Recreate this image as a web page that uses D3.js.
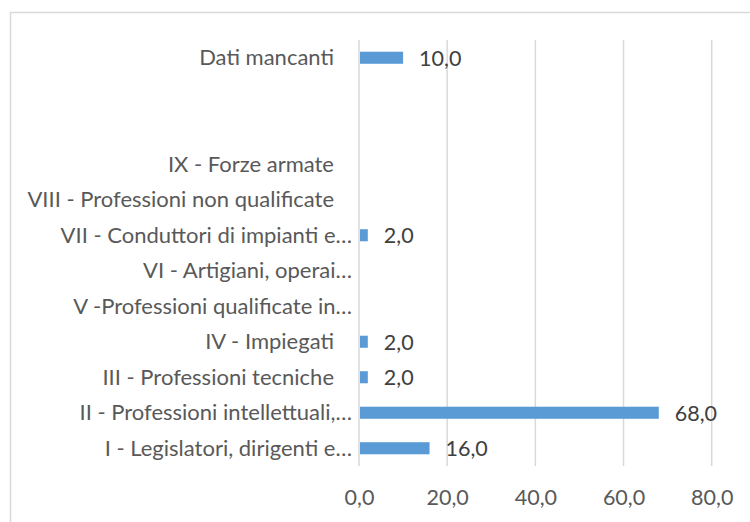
<!DOCTYPE html>
<html>
<head>
<meta charset="utf-8">
<script src="https://cdn.jsdelivr.net/npm/d3@7"></script>
<style>
  html, body { margin: 0; padding: 0; background: #fff; }
  svg { display: block; }
  text { font-family: Lato, "Open Sans", sans-serif; }
</style>
</head>
<body>
<script>
const categories = [
  "Dati mancanti",
  "",
  "",
  "IX - Forze armate",
  "VIII - Professioni non qualificate",
  "VII - Conduttori di impianti e…",
  "VI - Artigiani, operai…",
  "V -Professioni qualificate in…",
  "IV - Impiegati",
  "III - Professioni tecniche",
  "II - Professioni intellettuali,…",
  "I - Legislatori, dirigenti e…"
];
const values = [10.0, null, null, null, null, 2.0, null, null, 2.0, 2.0, 68.0, 16.0];
const tickValues = [0, 20, 40, 60, 80];

const W = 750, H = 522;
const margin = { left: 359, right: 38.3, top: 40, bottom: 56 };

const svg = d3.select("body").append("svg").attr("width", W).attr("height", H);

// outer chart border
svg.append("rect")
  .attr("x", 10.5).attr("y", 12.5)
  .attr("width", W).attr("height", H)
  .attr("fill", "none").attr("stroke", "#d9d9d9").attr("stroke-width", 1.5);

const x = d3.scaleLinear().domain([0, 80]).range([margin.left, W - margin.right]);
const y = d3.scaleBand()
  .domain(categories.map((d, i) => i))
  .range([margin.top, H - margin.bottom])
  .paddingInner(0.66).paddingOuter(0.33);

// gridlines
svg.append("g").selectAll("line").data(tickValues).join("line")
  .attr("x1", d => x(d)).attr("x2", d => x(d))
  .attr("y1", margin.top).attr("y2", H - margin.bottom)
  .attr("stroke", "#d9d9d9").attr("stroke-width", 1.5);

// x axis tick labels
const fmt = d => d3.format(".1f")(d).replace(".", ",");
const xAxis = d3.axisBottom(x).tickValues(tickValues).tickSize(0).tickPadding(0).tickFormat(fmt);
const gx = svg.append("g").attr("transform", `translate(0,${H - margin.bottom})`).call(xAxis);
gx.select(".domain").remove();
gx.selectAll("text")
  .attr("dy", null).attr("y", 39)
  .attr("font-family", "Lato, sans-serif")
  .attr("font-size", 21.5).attr("fill", "#595959");

// category labels
svg.append("g").selectAll("text").data(categories).join("text")
  .attr("x", d => d.endsWith("…") ? 352 : 334)
  .attr("y", (d, i) => y(i) + y.bandwidth() / 2)
  .attr("dy", "0.35em")
  .attr("text-anchor", "end")
  .attr("font-size", 22).attr("fill", "#595959")
  .text(d => d);

// bars
const data = categories.map((c, i) => ({ i, v: values[i] })).filter(d => d.v != null);
svg.append("g").selectAll("rect").data(data).join("rect")
  .attr("x", x(0) + 1)
  .attr("y", d => y(d.i))
  .attr("width", d => x(d.v) - x(0) - 1)
  .attr("height", y.bandwidth())
  .attr("fill", "#5b9bd5");

// data labels
svg.append("g").selectAll("text").data(data).join("text")
  .attr("x", d => x(d.v) + 16)
  .attr("y", d => y(d.i) + y.bandwidth() / 2)
  .attr("dy", "0.38em")
  .attr("font-size", 21.5).attr("fill", "#404040")
  .text(d => fmt(d.v));
</script>
</body>
</html>
